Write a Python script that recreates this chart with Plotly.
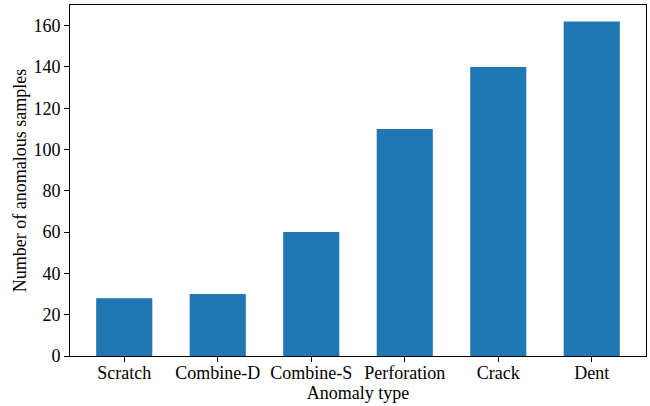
import plotly.graph_objects as go

categories = ["Scratch", "Combine-D", "Combine-S", "Perforation", "Crack", "Dent"]
counts = [28, 30, 60, 110, 140, 162]
y_ticks = [0, 20, 40, 60, 80, 100, 120, 140, 160]

font = "Liberation Serif, Times New Roman, serif"

fig = go.Figure(go.Bar(
    x=list(range(len(categories))), y=counts, width=0.6,
    marker=dict(color="#1f77b4", line=dict(width=0)),
    hoverinfo="skip",
))

fig.update_layout(
    template="none",
    width=650, height=406,
    margin=dict(l=70, r=4, t=5, b=50, autoexpand=False),
    plot_bgcolor="white", paper_bgcolor="white",
    font=dict(family=font, size=18, color="black"),
    showlegend=False,
    xaxis=dict(
        range=[-0.58, 5.58], tickmode="array",
        tickvals=list(range(len(categories))), ticktext=categories,
        showgrid=False, zeroline=False, automargin=False,
        showline=True, linecolor="black", linewidth=1, mirror=True,
        ticks="outside", ticklen=5, tickcolor="black", tickwidth=1,
        ticklabelstandoff=-5,
        title=dict(text="Anomaly type", standoff=0, font=dict(size=18)),
    ),
    yaxis=dict(
        range=[0, 170], tickmode="array", tickvals=y_ticks,
        showgrid=False, zeroline=False, automargin=False,
        showline=True, linecolor="black", linewidth=1, mirror=True,
        ticks="outside", ticklen=5, tickcolor="black", tickwidth=1,
        title=dict(text="Number of anomalous samples", standoff=2, font=dict(size=18)),
    ),
)

fig.write_html(
    "out.html",
    config={"displayModeBar": False},
    post_script="document.body.style.margin='0px';document.body.style.overflow='hidden';",
)
